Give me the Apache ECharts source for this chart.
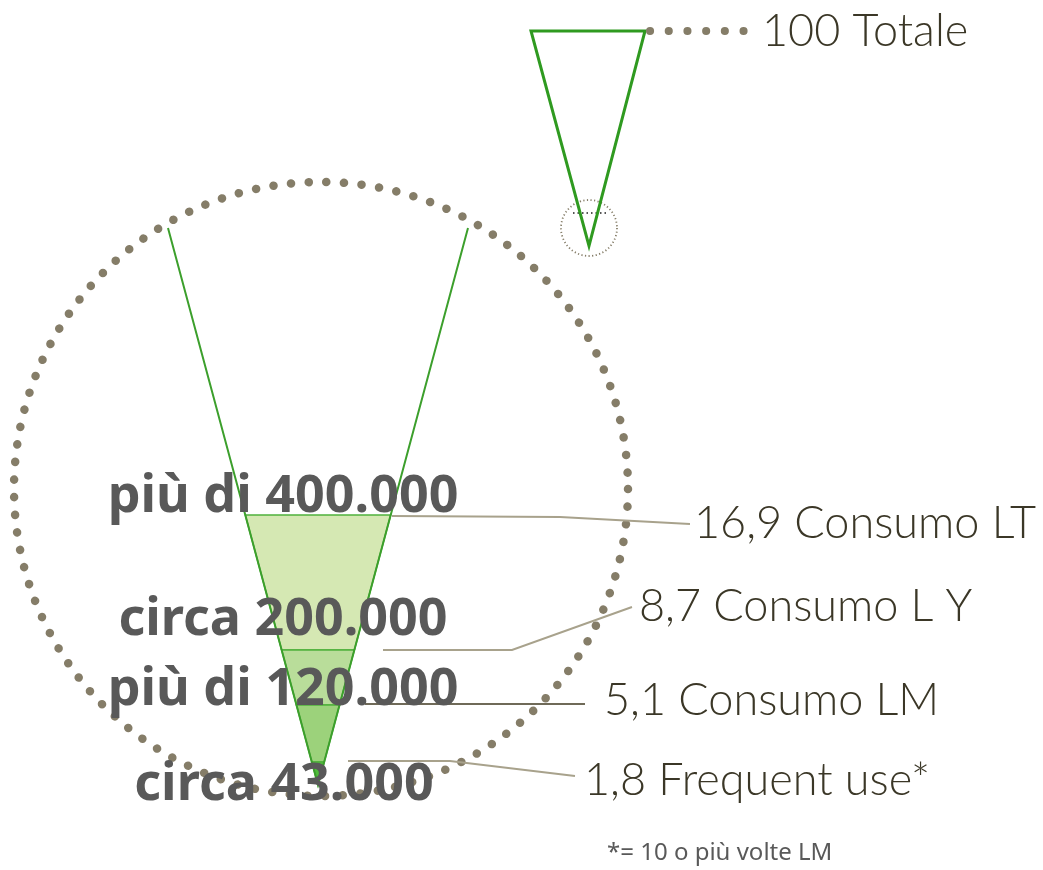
<!DOCTYPE html>
<html>
<head>
<meta charset="utf-8">
<script src="https://cdn.jsdelivr.net/npm/echarts@6/dist/echarts.min.js"></script>
<style>
html, body { margin: 0; background: #fff; }
#chart { width: 1043px; height: 870px; }
</style>
</head>
<body>
<div id="chart"></div>
<script>
// ------------------------------
// Data
// ------------------------------
var shares = [100, 16.9, 8.7, 5.1, 1.8];
var shareNames = ['Totale', 'Consumo LT', 'Consumo L Y', 'Consumo LM', 'Frequent use*'];
var counts = ['più di 400.000', 'circa 200.000', 'più di 120.000', 'circa 43.000'];
var footnote = '*= 10 o più volte LM';

// ------------------------------
// Layout (units of the hidden axes = pixels)
// ------------------------------
var bigTop = 228, bigLeft = 168, bigRight = 468, apexX = 318, apexY = 785;
var bandTops = [515, 650, 705, 762];
var bandColors = ['#d5e8b3', '#b9dd9a', '#9cd27b', '#4fbd3a'];
var leaders = [
    [[392, 516], [560, 517], [690, 524]],
    [[383, 650], [512, 650], [632, 607]],
    [[365, 704], [585, 704]],
    [[348, 761], [450, 761], [575, 776]]
];
var labelAt = [[762, 31], [694, 523], [639, 606], [604, 700], [584, 780]];
var countAt = [[283, 497], [283, 620], [283, 690], [284, 785]];

function halfWidth(y) {
    return (bigRight - bigLeft) / 2 * (apexY - y) / (apexY - bigTop);
}
function fmt(v) {
    return String(v).replace('.', ',');
}

var chart = echarts.init(document.getElementById('chart'));

var option = {
    animation: false,
    grid: { left: 0, right: 0, top: 0, bottom: 0 },
    xAxis: { type: 'value', min: 0, max: 1043, show: false },
    yAxis: { type: 'value', min: 0, max: 870, inverse: true, show: false },
    series: [
        // big dotted circle, small triangle, connectors
        {
            type: 'custom',
            data: [[0]],
            renderItem: function (params, api) {
                var c = api.coord([321, 489]);
                var r = api.size([307, 0])[0];
                var sc = api.coord([589, 228]);
                var sr = api.size([28, 0])[0];
                var tri = [[531, 31], [645, 31], [589, 246]].map(function (p) { return api.coord(p); });
                var d0 = api.coord([650, 31]), d1 = api.coord([745, 31]);
                var m0 = api.coord([573, 213]), m1 = api.coord([607, 213]);
                return {
                    type: 'group',
                    children: [
                        { type: 'circle', shape: { cx: c[0], cy: c[1], r: r },
                          style: { fill: 'none', stroke: '#857d68', lineWidth: 8.5, lineDash: [0.1, 17.6], lineCap: 'round' } },
                        { type: 'circle', shape: { cx: sc[0], cy: sc[1], r: sr },
                          style: { fill: 'none', stroke: '#857d68', lineWidth: 1.8, lineDash: [1.2, 2.4] } },
                        { type: 'line', shape: { x1: m0[0], y1: m0[1], x2: m1[0], y2: m1[1] },
                          style: { stroke: '#555', lineWidth: 1.8, lineDash: [1.5, 3] } },
                        { type: 'polygon', shape: { points: tri },
                          style: { fill: 'none', stroke: '#2f9a20', lineWidth: 3 } },
                        { type: 'line', shape: { x1: d0[0], y1: d0[1], x2: d1[0], y2: d1[1] },
                          style: { stroke: '#857d68', lineWidth: 8, lineDash: [0.1, 18.6], lineCap: 'round' } }
                    ]
                };
            }
        },
        // funnel bands
        {
            type: 'custom',
            data: shares.slice(1).map(function (v, i) { return [i, v]; }),
            renderItem: function (params, api) {
                var i = api.value(0);
                var top = bandTops[i];
                var bottom = i < bandTops.length - 1 ? bandTops[i + 1] : apexY;
                var pts = [
                    [apexX - halfWidth(top), top], [apexX + halfWidth(top), top],
                    [apexX + halfWidth(bottom), bottom], [apexX - halfWidth(bottom), bottom]
                ].map(function (p) { return api.coord(p); });
                return {
                    type: 'polygon',
                    shape: { points: pts },
                    style: { fill: bandColors[i], stroke: '#4fb13c', lineWidth: 1.5 }
                };
            }
        },
        // funnel sides
        {
            type: 'custom',
            data: [[0]],
            renderItem: function (params, api) {
                var a = api.coord([apexX, apexY]);
                var l = api.coord([bigLeft, bigTop]);
                var r = api.coord([bigRight, bigTop]);
                return {
                    type: 'polyline',
                    shape: { points: [l, a, r] },
                    style: { fill: 'none', stroke: '#3c9f2c', lineWidth: 2 }
                };
            }
        },
        // leader lines
        {
            type: 'custom',
            data: shares.slice(1).map(function (v, i) { return [i, v]; }),
            renderItem: function (params, api) {
                var i = api.value(0);
                return {
                    type: 'polyline',
                    shape: { points: leaders[i].map(function (p) { return api.coord(p); }) },
                    style: { fill: 'none', stroke: i === 2 ? '#6f6a58' : '#a8a28c', lineWidth: 2 }
                };
            }
        },
        // share labels
        {
            type: 'custom',
            data: shares.map(function (v, i) { return [i, v]; }),
            renderItem: function (params, api) {
                var i = api.value(0);
                var p = api.coord(labelAt[i]);
                return {
                    type: 'text',
                    x: p[0], y: p[1],
                    style: {
                        text: fmt(shares[i]) + ' ' + shareNames[i],
                        fill: '#3b3727',
                        fontFamily: 'Lato',
                        fontWeight: 300,
                        fontSize: 45,
                        textAlign: 'left',
                        textVerticalAlign: 'middle'
                    }
                };
            }
        },
        // count labels
        {
            type: 'custom',
            data: counts.map(function (v, i) { return [i]; }),
            renderItem: function (params, api) {
                var i = api.value(0);
                var p = api.coord(countAt[i]);
                return {
                    type: 'text',
                    x: p[0], y: p[1],
                    style: {
                        text: counts[i],
                        fill: '#595959',
                        fontFamily: 'Noto Sans',
                        fontWeight: 'bold',
                        fontSize: 52,
                        textAlign: 'center',
                        textVerticalAlign: 'middle'
                    }
                };
            }
        },
        // footnote
        {
            type: 'custom',
            data: [[0]],
            renderItem: function (params, api) {
                var p = api.coord([607, 853]);
                return {
                    type: 'text',
                    x: p[0], y: p[1],
                    style: {
                        text: footnote,
                        fill: '#595959',
                        fontFamily: 'Noto Sans',
                        fontSize: 24,
                        textAlign: 'left',
                        textVerticalAlign: 'middle'
                    }
                };
            }
        }
    ]
};
chart.setOption(option);
</script>
</body>
</html>
